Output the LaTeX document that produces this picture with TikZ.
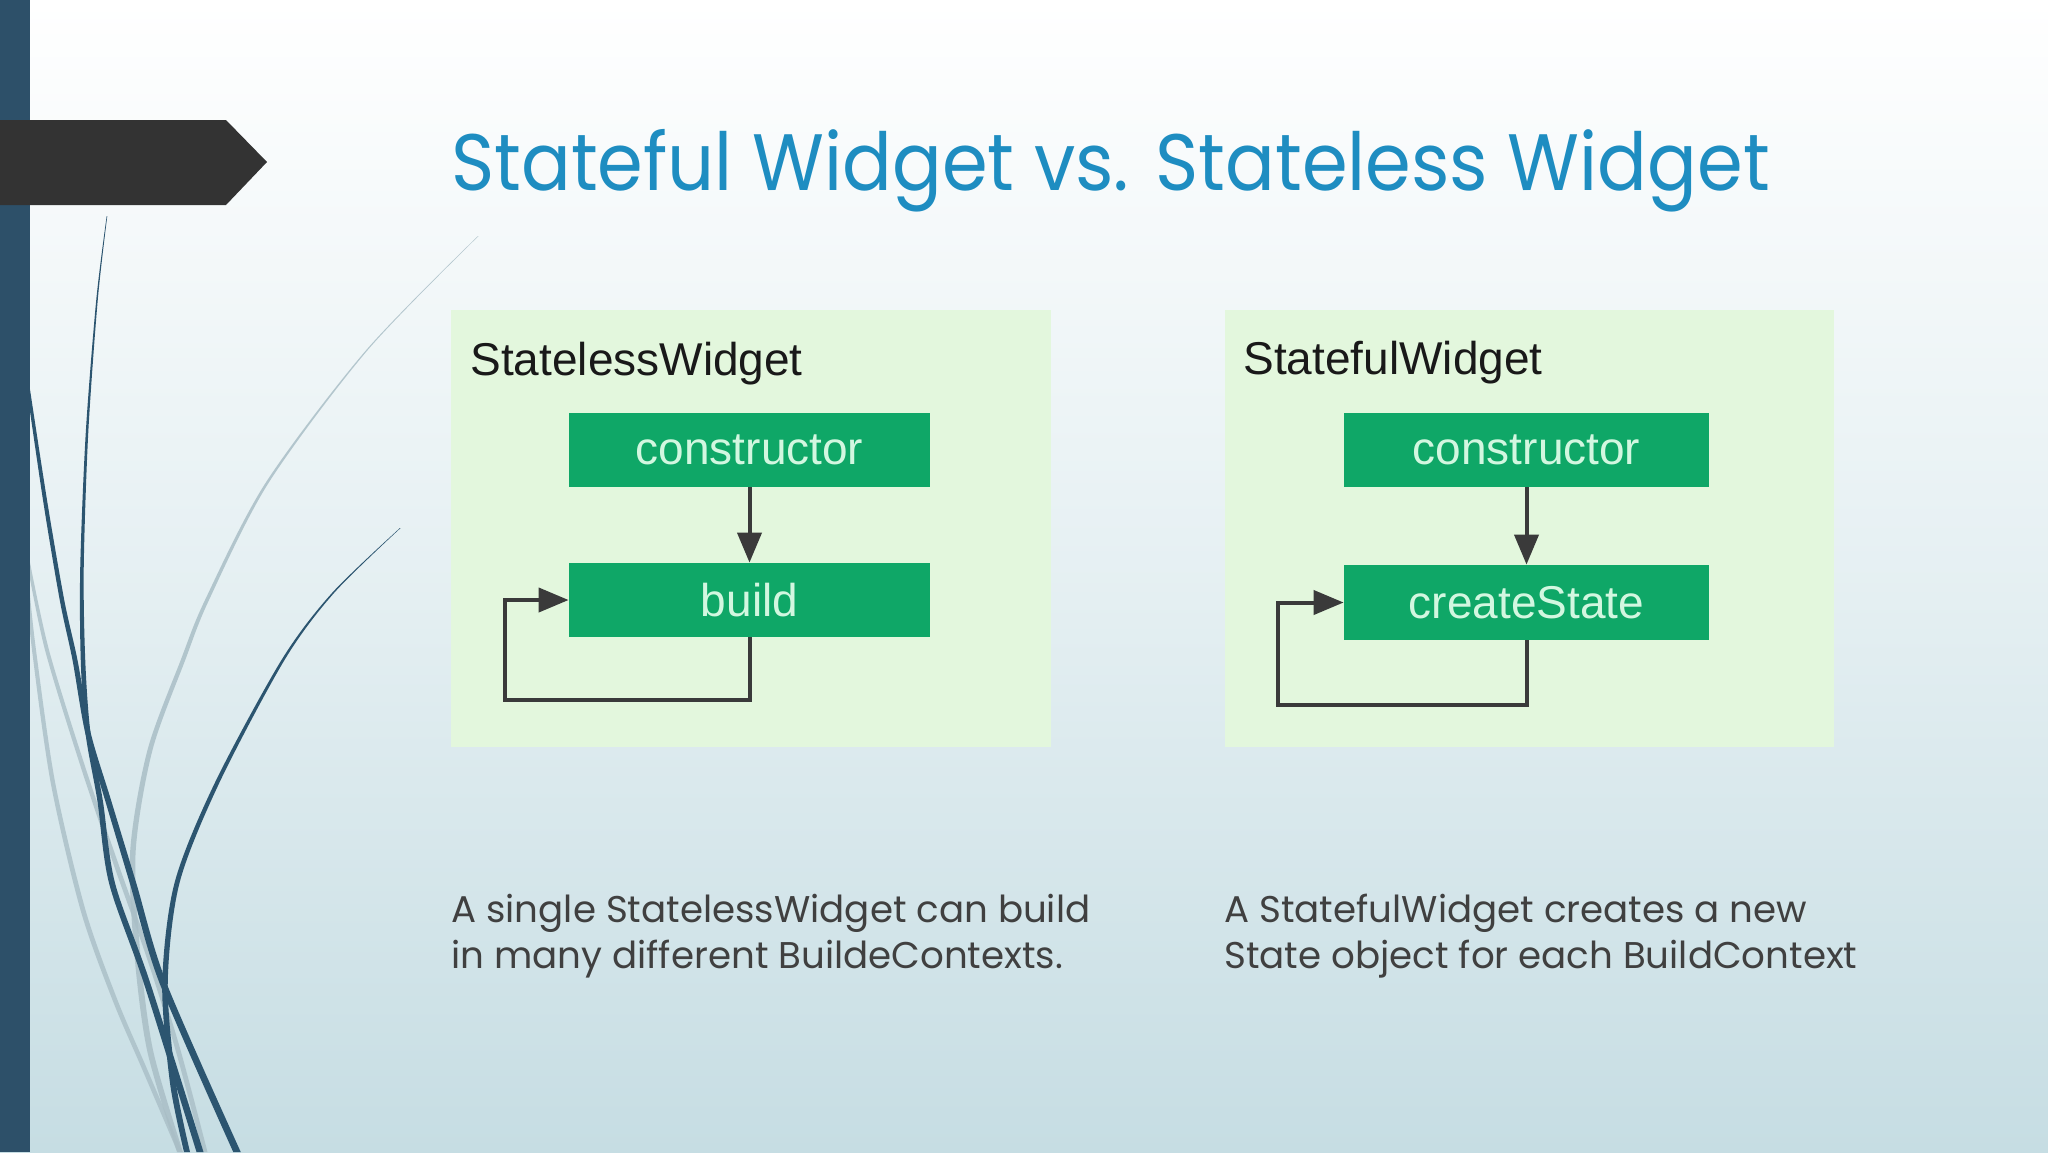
\documentclass[tikz,border=0pt]{standalone}
\usepackage{fontspec}
\setmainfont{Liberation Sans}
\newfontfamily\gothic{Poppins}
\newfontfamily\gothicnarrow[FakeStretch=0.92]{Poppins}
\newfontfamily\arialf{Liberation Sans}
\usetikzlibrary{arrows.meta}
\definecolor{bgbottom}{HTML}{C6DDE3}
\definecolor{barblue}{HTML}{2D5069}
\definecolor{arrowgray}{HTML}{333333}
\definecolor{curvedark}{HTML}{2C5570}
\definecolor{curvegray}{HTML}{A9BEC6}
\definecolor{titleblue}{HTML}{1E8DC1}
\definecolor{panelgreen}{HTML}{E3F7DD}
\definecolor{boxgreen}{HTML}{0FA767}
\definecolor{boxtext}{HTML}{D2F7E0}
\definecolor{linegray}{HTML}{3A3A3A}
\definecolor{bodytext}{HTML}{404040}
\tikzset{
  panel/.style={fill=panelgreen, draw=none},
  stepbox/.style={fill=boxgreen, draw=none, text=boxtext, font=\arialf\fontsize{23}{27}\selectfont, inner sep=0pt},
  conn/.style={draw=linegray, line width=2pt, -{Triangle[length=15pt,width=12pt]}},
  paneltitle/.style={anchor=base west, inner sep=0pt, text=black!90, font=\arialf\fontsize{23}{27}\selectfont},
  bodytxt/.style={anchor=base west, inner sep=0pt, align=left, text=bodytext, font=\gothic\fontsize{18.6}{23}\selectfont},
}
\begin{document}
\begin{tikzpicture}[x=0.5pt,y=-0.5pt]
\useasboundingbox (0,0) rectangle (2048,1152);
% background
\shade[top color=white, bottom color=bgbottom, middle color=white!55!bgbottom] (0,0) rectangle (2048,1152);
% gray curves
\fill[curvegray, opacity=0.8] plot[smooth] coordinates {(26.5,590) (32,650) (50.75,783) (80.5,910) (112.5,1000) (142.5,1070) (177.5,1152)}
  -- plot[smooth] coordinates {(182.5,1152) (147.5,1070) (117.5,1000) (85.5,910) (55.25,783) (36,650) (29.5,590)} -- cycle;
\fill[curvegray, opacity=0.8] plot[smooth] coordinates {(26.5,560) (45,650) (80.75,767) (114.5,867) (147.5,960) (175.5,1050) (202.5,1152)}
  -- plot[smooth] coordinates {(207.5,1152) (180.5,1050) (152.5,960) (119.5,867) (85.25,767) (49,650) (29.5,560)} -- cycle;
\fill[curvegray, opacity=0.85] plot[smooth] coordinates {(478,236) (366.25,350) (265.5,483) (205,600) (180.75,660) (147.5,750) (130.25,850) (134,950) (147,1050) (177,1152)}
  -- plot[smooth] coordinates {(183,1152) (153,1050) (140,950) (135.75,850) (152.5,750) (185.25,660) (209,600) (268.5,483) (367.75,350) (478.6,236)} -- cycle;
% dark curves
\fill[curvedark] plot[smooth] coordinates {(106.7,216) (96.25,300) (85.75,433) (80.25,567) (80.75,660) (85.5,733) (97.25,800) (109,883) (143.75,983) (196.5,1152)}
  -- plot[smooth] coordinates {(203.5,1152) (150.25,983) (115,883) (102.75,800) (90.5,733) (85.25,660) (83.75,567) (88.25,433) (97.75,300) (107.3,216)} -- cycle;
\fill[curvedark] plot[smooth] coordinates {(24.5,373) (43,500) (59.75,600) (72.5,660) (85.25,733) (105,800) (129.75,883) (159.5,983) (233.25,1152)}
  -- plot[smooth] coordinates {(240.75,1152) (166.5,983) (136.25,883) (111,800) (90.75,733) (77.5,660) (64.25,600) (47,500) (27.5,373)} -- cycle;
\fill[curvedark] plot[smooth] coordinates {(400,528) (332,593) (281.5,660) (214.75,783) (174.5,883) (162.25,983) (170,1083) (184,1152)}
  -- plot[smooth] coordinates {(190,1152) (176,1083) (167.75,983) (179.5,883) (219.25,783) (284.5,660) (334,593) (400.6,528)} -- cycle;
% left bar and banner arrow
\fill[barblue] (0,0) rectangle (30,1152);
\fill[arrowgray] (0,120) -- (226,120) -- (267,162) -- (226,205) -- (0,205) -- cycle;
% title
\node[anchor=base west, inner sep=0pt, text=titleblue, font=\gothicnarrow\fontsize{40}{48}\selectfont] (title) at (451,190) {Stateful Widget vs. Stateless Widget};
% left panel
\fill[panel] (451,310) rectangle (1051,747);
\node[paneltitle] (lt) at (470,375) {StatelessWidget};
\node[stepbox, minimum width=180.5pt, minimum height=37pt] (c1) at (749.5,450) {constructor};
\node[stepbox, minimum width=180.5pt, minimum height=37pt] (b1) at (749.5,600) {build};
\coordinate (l1) at (505,700);
\draw[conn] (c1.south) -- (b1.north);
\draw[conn] (b1.south) |- (l1) |- (b1.west);
% right panel
\fill[panel] (1225,310) rectangle (1834,747);
\node[paneltitle] (rt) at (1243,374) {StatefulWidget};
\node[stepbox, minimum width=182.5pt, minimum height=37pt] (c2) at (1526.5,450) {constructor};
\node[stepbox, minimum width=182.5pt, minimum height=37.5pt] (s2) at (1526.5,602.5) {createState};
\coordinate (l2) at (1278,705);
\draw[conn] (c2.south) -- (s2.north);
\draw[conn] (s2.south) |- (l2) |- (s2.west);
% bottom texts
\node[bodytxt] (lb) at (451,968) {A single StatelessWidget can build\\in many different BuildeContexts.};
\node[bodytxt] (rb) at (1224,968) {A StatefulWidget creates a new\\State object for each BuildContext};
\end{tikzpicture}
\end{document}
